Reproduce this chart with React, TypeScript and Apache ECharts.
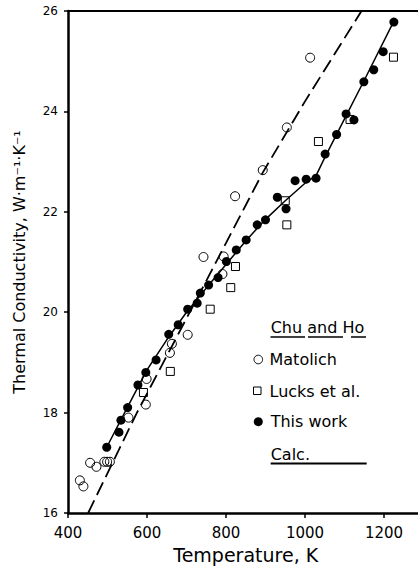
import React, { useEffect, useRef } from "react";
import * as echarts from "echarts";

// Tick labels
const X_TICKS = [400, 600, 800, 1000, 1200];
const Y_TICKS = [16, 18, 20, 22, 24, 26];

// "This work" (filled dots)
const thisWorkT = [498, 529, 534, 551, 577, 597, 623, 655, 679, 703, 727, 735, 756, 780, 801, 826, 851, 879, 900, 930, 952, 975, 1003, 1028, 1051, 1080, 1104, 1124, 1149, 1174, 1198, 1225];
const thisWorkK = [17.31, 17.61, 17.85, 18.1, 18.55, 18.8, 19.05, 19.56, 19.75, 20.06, 20.18, 20.38, 20.54, 20.69, 21.01, 21.24, 21.44, 21.74, 21.84, 22.29, 22.06, 22.62, 22.65, 22.67, 23.15, 23.54, 23.95, 23.83, 24.59, 24.83, 25.19, 25.78];

// Matolich (open circles)
const matolichT = [430, 439, 456, 472, 492, 499, 506, 553, 597, 599, 658, 663, 703, 743, 791, 794, 823, 893, 954, 1013];
const matolichK = [16.65, 16.53, 17.0, 16.92, 17.02, 17.02, 17.02, 17.9, 18.16, 18.67, 19.19, 19.37, 19.55, 21.1, 20.76, 21.11, 22.31, 22.83, 23.68, 25.07];

// Lucks et al. (open squares)
const lucksT = [591, 659, 760, 812, 824, 950, 954, 1034, 1114, 1224];
const lucksK = [18.4, 18.82, 20.06, 20.49, 20.91, 22.22, 21.74, 23.4, 23.84, 25.08];

// Calc. (solid line)
const calcT = [498, 550, 600, 650, 700, 750, 800, 850, 900, 950, 1000, 1028, 1050, 1100, 1150, 1225];
const calcK = [17.31, 18.1, 18.85, 19.45, 20.0, 20.48, 20.95, 21.42, 21.85, 22.22, 22.57, 22.72, 23.08, 23.85, 24.62, 25.8];

// Chu and Ho (dashed line)
const chuT = [451, 574, 751, 893, 1000, 1143];
const chuK = [16.0, 17.99, 20.64, 22.78, 24.2, 26.0];

const FONT = "DejaVu Sans";

const zip = (a: number[], b: number[]) => a.map((v, i) => [v, b[i]]);

export default function App() {
  const ref = useRef<HTMLDivElement>(null);
  useEffect(() => {
    if (!ref.current) return;
    const chart = echarts.init(ref.current, undefined, { renderer: "svg" });
    const black = "#000";
    const option: any = {
      animation: false,
      backgroundColor: "#fff",
      grid: {
        left: 68,
        top: 11,
        width: 355.5,
        height: 502,
        containLabel: false,
        outerBoundsMode: "none",
      },
      xAxis: [
        {
          type: "value",
          min: 400,
          max: 1300,
          interval: 200,
          axisLine: { show: true, onZero: false, lineStyle: { color: black, width: 2.5 } },
          axisTick: { show: true, inside: false, length: 5, lineStyle: { color: black, width: 1.5 } },
          axisLabel: {
            color: black,
            fontSize: 15,
            fontFamily: FONT,
            margin: 12,
            formatter: (v: number) => (X_TICKS.includes(v) ? String(v) : ""),
          },
          splitLine: { show: false },
          name: "Temperature, K",
          nameLocation: "middle",
          nameGap: 32,
          nameTextStyle: { color: black, fontSize: 19, fontFamily: FONT },
        },
        {
          type: "value",
          position: "top",
          min: 400,
          max: 1300,
          interval: 200,
          axisLine: { show: true, onZero: false, lineStyle: { color: black, width: 2 } },
          axisTick: { show: false },
          axisLabel: { show: false },
          splitLine: { show: false },
        },
      ],
      yAxis: {
        type: "value",
        min: 16,
        max: 26,
        interval: 2,
        axisLine: { show: true, onZero: false, lineStyle: { color: black, width: 2.5 } },
        axisTick: { show: true, inside: false, length: 4, lineStyle: { color: black, width: 1.5 } },
        axisLabel: {
          color: black,
          fontSize: 12,
          fontFamily: FONT,
          margin: 10,
          formatter: (v: number) => (Y_TICKS.includes(v) ? String(v) : ""),
        },
        splitLine: { show: false },
        name: "Thermal Conductivity, W·m⁻¹·K⁻¹",
        nameLocation: "middle",
        nameGap: 41,
        nameTextStyle: { color: black, fontSize: 16, fontFamily: FONT },
      },
      series: [
        {
          name: "Chu and Ho",
          type: "line",
          data: zip(chuT, chuK),
          showSymbol: false,
          silent: true,
          z: 1,
          lineStyle: { color: black, width: 1.8, type: [14, 6], opacity: 1 },
        },
        {
          name: "Calc.",
          type: "line",
          data: zip(calcT, calcK),
          showSymbol: false,
          silent: true,
          z: 1,
          lineStyle: { color: black, width: 1.5, opacity: 1 },
        },
        {
          name: "Matolich",
          type: "scatter",
          data: zip(matolichT, matolichK),
          symbol: "circle",
          symbolSize: 9,
          silent: true,
          z: 2,
          itemStyle: { color: "rgba(0,0,0,0)", borderColor: black, borderWidth: 1, opacity: 1 },
        },
        {
          name: "Lucks et al.",
          type: "scatter",
          data: zip(lucksT, lucksK),
          symbol: "rect",
          symbolSize: 8,
          silent: true,
          z: 2,
          itemStyle: { color: "rgba(0,0,0,0)", borderColor: black, borderWidth: 1, opacity: 1 },
        },
        {
          name: "This work",
          type: "scatter",
          data: zip(thisWorkT, thisWorkK),
          symbol: "circle",
          symbolSize: 9,
          silent: true,
          z: 3,
          itemStyle: { color: black, opacity: 1 },
        },
      ],
      graphic: [
        {
          type: "text",
          left: 270.7,
          top: 319,
          style: { text: "Chu and Ho", fill: black, font: `16px "${FONT}"` },
        },
        { type: "line", shape: { x1: 270.5, y1: 337, x2: 305, y2: 337 }, style: { stroke: black, lineWidth: 1.5 } },
        { type: "line", shape: { x1: 308, y1: 337, x2: 343, y2: 337 }, style: { stroke: black, lineWidth: 1.5 } },
        { type: "line", shape: { x1: 351, y1: 337, x2: 366, y2: 337 }, style: { stroke: black, lineWidth: 1.5 } },
        { type: "circle", shape: { cx: 258.3, cy: 359.5, r: 4.3 }, style: { fill: "none", stroke: black, lineWidth: 1 } },
        {
          type: "text",
          left: 269.5,
          top: 351,
          style: { text: "Matolich", fill: black, font: `16px "${FONT}"` },
        },
        { type: "rect", shape: { x: 253.5, y: 387, width: 7.5, height: 7.5 }, style: { fill: "none", stroke: black, lineWidth: 1 } },
        {
          type: "text",
          left: 269.5,
          top: 383,
          style: { text: "Lucks et al.", fill: black, font: `16px "${FONT}"` },
        },
        { type: "circle", shape: { cx: 258.3, cy: 421.7, r: 4.5 }, style: { fill: black } },
        {
          type: "text",
          left: 270.7,
          top: 413.5,
          style: { text: "This work", fill: black, font: `16px "${FONT}"` },
        },
        {
          type: "text",
          left: 270.7,
          top: 446,
          style: { text: "Calc.", fill: black, font: `16px "${FONT}"` },
        },
        { type: "line", shape: { x1: 270.7, y1: 463.5, x2: 366.7, y2: 463.5 }, style: { stroke: black, lineWidth: 2 } },
      ],
    };
    chart.setOption(option);
    return () => chart.dispose();
  }, []);
  return (
    <div
      ref={ref}
      style={{ position: "fixed", left: 0, top: 0, width: 418, height: 569, background: "#fff" }}
    />
  );
}
